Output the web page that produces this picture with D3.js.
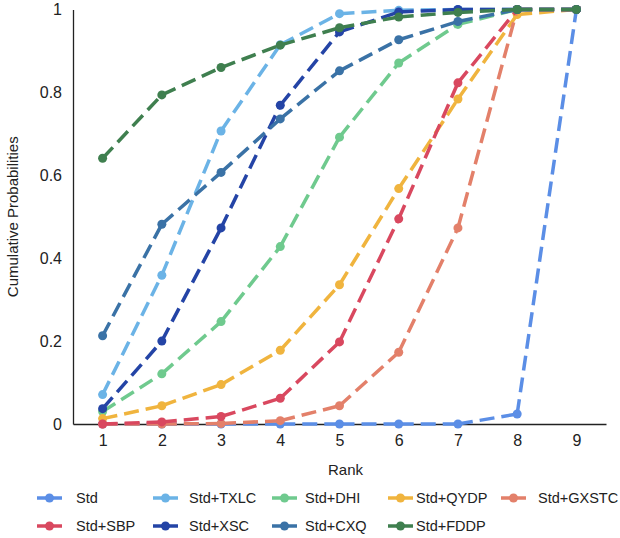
<!DOCTYPE html>
<html lang="en">
<head>
<meta charset="UTF-8">
<title>Cumulative Probabilities</title>
<script src="https://cdn.jsdelivr.net/npm/d3@7"></script>
<style>
  body { margin: 0; background: #fff; }
  svg { font-family: "Liberation Sans", Arial, sans-serif; }
</style>
</head>
<body>
<div id="container"></div>
<script>
// ranks on the x axis
var ranks = [1, 2, 3, 4, 5, 6, 7, 8, 9];
var yTicks = [0, 0.2, 0.4, 0.6, 0.8, 1];

// treatments, in legend order
var names = ["Std", "Std+TXLC", "Std+DHI", "Std+QYDP", "Std+GXSTC",
             "Std+SBP", "Std+XSC", "Std+CXQ", "Std+FDDP"];
var colors = ["#5b8ee6", "#6bb3e6", "#6fca8e", "#f0b43e", "#e3806a",
              "#d9485f", "#2444a6", "#3a72a6", "#3f7f4f"];

// cumulative probability per rank
var std   = [0, 0, 0, 0, 0, 0, 0, 0.024, 1];
var txlc  = [0.071, 0.359, 0.707, 0.915, 0.99, 0.998, 1, 1, 1];
var dhi   = [0.03, 0.121, 0.247, 0.428, 0.692, 0.871, 0.964, 1, 1];
var qydp  = [0.013, 0.044, 0.095, 0.178, 0.336, 0.568, 0.784, 0.988, 1];
var gxstc = [0, 0, 0.001, 0.008, 0.044, 0.173, 0.473, 1, 1];
var sbp   = [0, 0.005, 0.018, 0.062, 0.198, 0.495, 0.823, 1, 1];
var xsc   = [0.037, 0.2, 0.473, 0.769, 0.946, 0.994, 1, 1, 1];
var cxq   = [0.213, 0.482, 0.607, 0.736, 0.852, 0.927, 0.971, 1, 1];
var fddp  = [0.641, 0.794, 0.86, 0.914, 0.956, 0.982, 0.993, 1, 1];

var seriesValues = [std, txlc, dhi, qydp, gxstc, sbp, xsc, cxq, fddp];

var W = 620, H = 538;
var plotLeft = 73, plotRight = 606, plotTop = 9.5, plotBottom = 424;

var svg = d3.select("#container").append("svg")
    .attr("width", W)
    .attr("height", H);

var x = d3.scaleLinear().domain([0.5, 9.5]).range([plotLeft, plotRight]);
var y = d3.scaleLinear().domain([0, 1]).range([plotBottom, plotTop]);

// axes
var xAxis = svg.append("g")
    .attr("transform", "translate(0," + plotBottom + ")")
    .call(d3.axisBottom(x).tickValues(ranks).tickSize(0).tickPadding(11).tickFormat(d3.format("d")));
var yAxis = svg.append("g")
    .attr("transform", "translate(" + plotLeft + ",0)")
    .call(d3.axisLeft(y).tickValues(yTicks).tickSize(0).tickPadding(11).tickFormat(d3.format("~g")));

[xAxis, yAxis].forEach(function (g) {
    g.select(".domain").attr("stroke", "#222").attr("stroke-width", 1.3);
    g.selectAll("text").attr("font-size", 16).attr("fill", "#222")
        .attr("font-family", "Liberation Sans, Arial, sans-serif");
});

svg.append("text")
    .attr("x", (plotLeft + plotRight) / 2 + 6)
    .attr("y", 475)
    .attr("text-anchor", "middle")
    .attr("font-size", 15)
    .attr("fill", "#222")
    .text("Rank");

svg.append("text")
    .attr("transform", "rotate(-90)")
    .attr("x", -(plotTop + plotBottom) / 2)
    .attr("y", 18)
    .attr("text-anchor", "middle")
    .attr("font-size", 15)
    .attr("fill", "#222")
    .text("Cumulative Probabilities");

// lines: every segment starts its own dash pattern at the point
var plot = svg.append("g");
seriesValues.forEach(function (vals, s) {
    var g = plot.append("g");
    var segs = d3.pairs(vals.map(function (v, i) { return [ranks[i], v]; }));
    g.selectAll("line")
        .data(segs)
        .enter().append("line")
        .attr("x1", d => x(d[0][0]))
        .attr("y1", d => y(d[0][1]))
        .attr("x2", d => x(d[1][0]))
        .attr("y2", d => y(d[1][1]))
        .attr("stroke", colors[s])
        .attr("stroke-width", 3.5)
        .attr("stroke-dasharray", "15,7");
    g.selectAll("circle")
        .data(vals)
        .enter().append("circle")
        .attr("cx", (d, i) => x(ranks[i]))
        .attr("cy", d => y(d))
        .attr("r", 4.5)
        .attr("fill", colors[s]);
});

// legend (two rows, five columns)
var colMarker = [37, 153, 272, 388, 501];
var colText = [76, 189, 305, 416, 538];
var rowY = [498, 526];

var legend = svg.append("g");
names.forEach(function (name, i) {
    var c = i % 5, r = Math.floor(i / 5);
    var item = legend.append("g")
        .attr("transform", "translate(0," + rowY[r] + ")");
    item.append("line")
        .attr("x1", colMarker[c]).attr("x2", colMarker[c] + 25)
        .attr("y1", 0).attr("y2", 0)
        .attr("stroke", colors[i]).attr("stroke-width", 3.5);
    item.append("circle")
        .attr("cx", colMarker[c] + 12.5).attr("cy", 0)
        .attr("r", 4.5).attr("fill", colors[i]);
    item.append("text")
        .attr("x", colText[c]).attr("y", 0)
        .attr("dy", "0.35em")
        .attr("font-size", 14.5)
        .attr("fill", "#222")
        .text(name);
});
</script>
</body>
</html>
